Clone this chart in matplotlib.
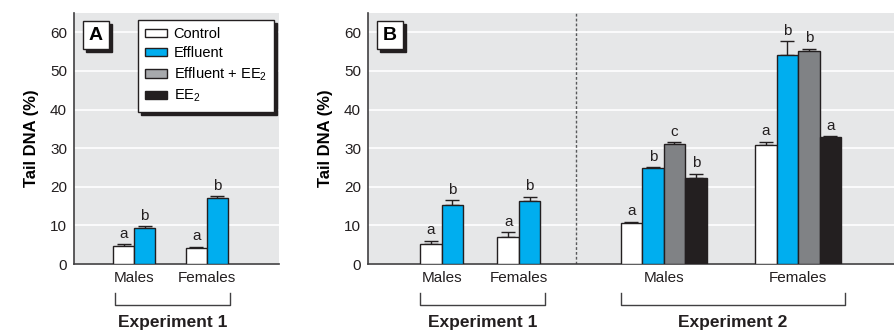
import numpy as np
import matplotlib
matplotlib.use("Agg")
import matplotlib.pyplot as plt
from matplotlib.patches import Rectangle, Patch

plt.rcParams['font.family'] = ['Liberation Sans Narrow', 'Liberation Sans', 'DejaVu Sans']
plt.rcParams['mathtext.default'] = 'regular'

# treatments and colours
treatments = ['Control', 'Effluent', 'Effluent + EE$_2$', 'EE$_2$']
bar_colors = ['#ffffff', '#00aeef', '#808285', '#231f20']
legend_colors = ['#ffffff', '#00aeef', '#a7a9ac', '#231f20']
sexes = ['Males', 'Females']

# panel A, experiment 1 (Control, Effluent)
a_mean = [[4.7, 9.2], [4.1, 17.0]]
a_err = [[0.4, 0.6], [0.4, 0.5]]
a_letters = [['a', 'b'], ['a', 'b']]

# panel B, experiment 1 (Control, Effluent)
b1_mean = [[5.2, 15.4], [7.0, 16.2]]
b1_err = [[0.8, 1.1], [1.2, 1.2]]
b1_letters = [['a', 'b'], ['a', 'b']]

# panel B, experiment 2 (all four treatments)
b2_mean = [[10.5, 24.9, 31.1, 22.3], [30.9, 54.0, 55.2, 32.9]]
b2_err = [[0.4, 0.2, 0.4, 1.1], [0.8, 3.7, 0.5, 0.2]]
b2_letters = [['a', 'b', 'c', 'b'], ['a', 'b', 'b', 'a']]

BG = '#e6e7e8'
EDGE = '#231f20'
AXC = '#414042'
W, H = 895, 334

fig = plt.figure(figsize=(W / 100, H / 100), dpi=100)
axA = fig.add_axes([74 / W, 70 / H, 205 / W, 251 / H])
axB = fig.add_axes([368 / W, 70 / H, 527 / W, 251 / H])


def style_axes(ax, xmax):
    ax.set_facecolor(BG)
    ax.set_xlim(0, xmax)
    ax.set_ylim(0, 65)
    ax.set_yticks(np.arange(0, 61, 10))
    ax.yaxis.grid(True, color='white', linewidth=1.2)
    ax.set_axisbelow(True)
    for s in ['top', 'right']:
        ax.spines[s].set_visible(False)
    for s in ['left', 'bottom']:
        ax.spines[s].set_color(AXC)
        ax.spines[s].set_linewidth(1.2)
    ax.tick_params(axis='y', length=0, pad=5, labelsize=11, colors='#231f20')
    ax.tick_params(axis='x', length=0, pad=5, labelsize=11, colors='#231f20')
    ax.set_ylabel('Tail DNA (%)', fontsize=12, fontweight='bold', labelpad=8)


def draw_group(ax, center, means, errs, letters):
    n = len(means)
    xs = center + np.arange(n) - (n - 1) / 2
    for i, (x, m, e, lab) in enumerate(zip(xs, means, errs, letters)):
        ax.bar(x, m, width=1.0, color=bar_colors[i], edgecolor=EDGE,
               linewidth=1.0, zorder=3)
        ax.errorbar(x, m, yerr=[[0], [e]], fmt='none', ecolor=EDGE,
                    elinewidth=1.0, capsize=5, capthick=1.0, zorder=2)
        ax.annotate(lab, (x, m + e), xytext=(0, 2.5), textcoords='offset points',
                    ha='center', va='bottom', fontsize=11, color='#231f20')
    return xs[0] - 0.5, xs[-1] + 0.5


def bracket(ax, x0, x1, label):
    tr = ax.get_xaxis_transform()
    ax.plot([x0, x0, x1, x1], [-0.115, -0.163, -0.163, -0.115], transform=tr,
            color=AXC, linewidth=1.0, clip_on=False)
    ax.text((x0 + x1) / 2, -0.235, label, transform=tr, ha='center',
            va='center', fontsize=12.5, fontweight='bold', color='#231f20')


def panel_tag(ax, letter):
    # small boxed letter with a drop shadow, fixed pixel size
    bb = ax.get_position()
    pw, ph = bb.width * W, bb.height * H
    x0, y0 = 9 / pw, 1 - (49 - 13) / ph
    bw, bh = 26 / pw, 28 / ph
    ax.add_patch(Rectangle((x0 + 3 / pw, y0 - 3 / ph), bw, bh, transform=ax.transAxes,
                           facecolor=EDGE, edgecolor=EDGE, zorder=5, clip_on=False))
    ax.add_patch(Rectangle((x0, y0), bw, bh, transform=ax.transAxes,
                           facecolor='white', edgecolor=EDGE, linewidth=1.0,
                           zorder=6, clip_on=False))
    ax.text(x0 + bw / 2, y0 + bh / 2, letter, transform=ax.transAxes,
            ha='center', va='center', fontsize=14, fontweight='bold', zorder=7)


# panel A
style_axes(axA, 205 / 21)
a_centers = [2.86, 6.33]
spans = [draw_group(axA, c, a_mean[k], a_err[k], a_letters[k]) for k, c in enumerate(a_centers)]
axA.set_xticks(a_centers, sexes)
bracket(axA, spans[0][0] + 0.1, spans[-1][1] + 0.1, 'Experiment 1')
panel_tag(axA, 'A')

handles = [Patch(facecolor=c, edgecolor=EDGE, linewidth=1.0) for c in legend_colors]
leg = axA.legend(handles, treatments, loc='upper left', bbox_to_anchor=(0.312, 0.972),
                 borderaxespad=0, fontsize=10.5, frameon=True, fancybox=False,
                 shadow={'color': EDGE, 'alpha': 1}, handlelength=1.5,
                 handleheight=0.5, handletextpad=0.45, labelspacing=0.35,
                 borderpad=0.5)
leg.get_frame().set_edgecolor(EDGE)
leg.get_frame().set_linewidth(1.0)
leg.get_frame().set_alpha(1)
leg.set_zorder(8)

# panel B
px = 21.5
style_axes(axB, 527 / px)
b1_centers = [3.43, 7.02]
b2_centers = [13.75, 20.0]
s1 = [draw_group(axB, c, b1_mean[k], b1_err[k], b1_letters[k]) for k, c in enumerate(b1_centers)]
s2 = [draw_group(axB, c, b2_mean[k], b2_err[k], b2_letters[k]) for k, c in enumerate(b2_centers)]
axB.set_xticks(b1_centers + b2_centers, sexes + sexes)
bracket(axB, s1[0][0], s1[-1][1] + 0.2, 'Experiment 1')
bracket(axB, s2[0][0], s2[-1][1] + 0.2, 'Experiment 2')
axB.axvline(9.67, color='#58595b', linestyle=(0, (2, 1.5)), linewidth=1.0, zorder=2)
panel_tag(axB, 'B')

fig.savefig('out.png', dpi=100, facecolor='white')
